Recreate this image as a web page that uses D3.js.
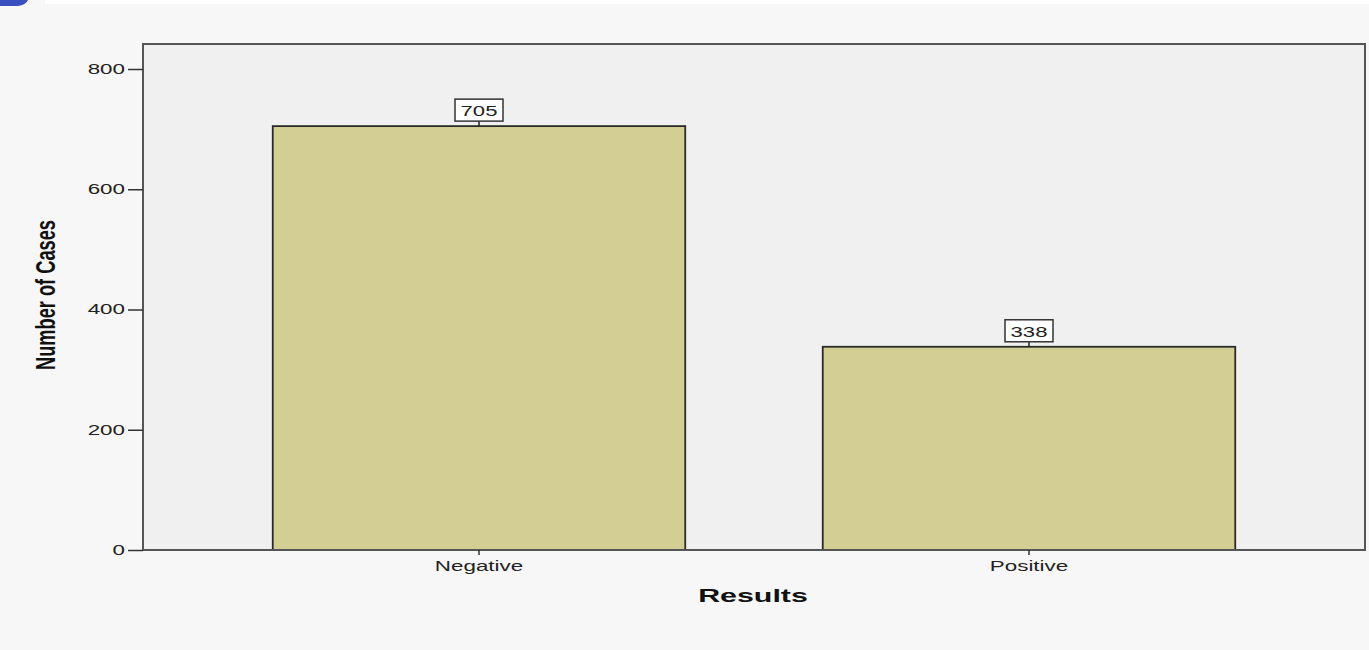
<!DOCTYPE html>
<html>
<head>
<meta charset="utf-8">
<script src="https://cdn.jsdelivr.net/npm/d3@7"></script>
<style>
  html, body { margin: 0; padding: 0; background: #f7f7f7; }
  svg { display: block; }
</style>
</head>
<body>
<svg id="chart" width="1369" height="650"></svg>
<script>
// Test results: number of cases per outcome
const categories = ["Negative", "Positive"];
const counts = [705, 338];
const yTicks = [0, 200, 400, 600, 800];
const xTitle = "Results";
const yTitle = "Number of Cases";

const W = 1369, H = 650;
const frame = { left: 143, right: 1365, top: 44, bottom: 550 };
const SX = 1.6;            // horizontal stretch applied to text
const FONT = "Liberation Sans, Arial, sans-serif";

const svg = d3.select("#chart");

// page background and top strip
svg.append("rect").attr("width", W).attr("height", H).attr("fill", "#f7f7f7");
svg.append("rect").attr("x", 45).attr("y", 0).attr("width", W - 45).attr("height", 4).attr("fill", "#ffffff");
svg.append("path")
  .attr("d", "M0,0 L28,0 Q26,5 18,6 L0,6 Z")
  .attr("fill", "#3a4fc0");

const y = d3.scaleLinear().domain([0, 800]).range([frame.bottom, 69]);
const x = d3.scaleBand()
  .domain(categories)
  .range([204, 1304])
  .paddingInner(0.25)
  .paddingOuter(0.125);

// plot area
svg.append("rect")
  .attr("x", frame.left).attr("y", frame.top)
  .attr("width", frame.right - frame.left).attr("height", frame.bottom - frame.top)
  .attr("fill", "#f0f0f0");

// bars
svg.append("g").selectAll("rect")
  .data(categories)
  .join("rect")
  .attr("x", d => x(d))
  .attr("y", (d, i) => y(counts[i]))
  .attr("width", x.bandwidth())
  .attr("height", (d, i) => y(0) - y(counts[i]))
  .attr("fill", "#d3cf94")
  .attr("stroke", "#2a2a2a")
  .attr("stroke-width", 1.8);

// frame border
svg.append("rect")
  .attr("x", frame.left).attr("y", frame.top)
  .attr("width", frame.right - frame.left).attr("height", frame.bottom - frame.top)
  .attr("fill", "none")
  .attr("stroke", "#555")
  .attr("stroke-width", 2);

// y axis
const yAxis = svg.append("g")
  .attr("transform", `translate(${frame.left},0)`)
  .call(d3.axisLeft(y).tickValues(yTicks).tickSize(15).tickPadding(3).tickFormat(d3.format("d")));
yAxis.select(".domain").remove();
yAxis.selectAll(".tick line").attr("stroke", "#333").attr("stroke-width", 1.5);
yAxis.selectAll(".tick text")
  .attr("font-family", FONT)
  .attr("font-size", 14).attr("fill", "#222")
  .attr("x", -18 / SX)
  .attr("transform", `scale(${SX},1)`);

// x axis
const xAxis = svg.append("g")
  .attr("transform", `translate(0,${frame.bottom})`)
  .call(d3.axisBottom(x).tickSize(5).tickPadding(3));
xAxis.select(".domain").remove();
xAxis.selectAll(".tick line").attr("stroke", "#333").attr("stroke-width", 1.5);
xAxis.selectAll(".tick text")
  .attr("font-family", FONT)
  .attr("font-size", 14).attr("fill", "#222")
  .attr("y", 11)
  .attr("transform", `scale(${SX},1)`);

// value labels with boxes
const lab = svg.append("g").selectAll("g")
  .data(categories)
  .join("g")
  .attr("transform", (d, i) => `translate(${x(d) + x.bandwidth() / 2},${y(counts[i])})`);
lab.append("line")
  .attr("x1", 0).attr("x2", 0).attr("y1", 0).attr("y2", -5)
  .attr("stroke", "#222").attr("stroke-width", 1.5);
lab.append("rect")
  .attr("x", -24).attr("y", -27).attr("width", 48).attr("height", 22)
  .attr("fill", "#ffffff").attr("stroke", "#333").attr("stroke-width", 1.5);
lab.append("text")
  .attr("transform", `translate(0,-10) scale(${SX * 0.92},1)`)
  .attr("text-anchor", "middle")
  .attr("font-family", FONT)
  .attr("font-size", 15).attr("fill", "#222")
  .text((d, i) => counts[i]);

// axis titles
svg.append("text")
  .attr("transform", `translate(753,602) scale(${SX},1)`)
  .attr("text-anchor", "middle")
  .attr("font-family", FONT)
  .attr("font-weight", "bold")
  .attr("font-size", 19).attr("fill", "#111")
  .text(xTitle);

const yt = svg.append("text")
  .attr("text-anchor", "middle")
  .attr("font-family", FONT)
  .attr("font-weight", "bold")
  .attr("font-size", 21).attr("fill", "#111")
  .text(yTitle);
const along = 150 / yt.node().getComputedTextLength();
yt.attr("transform", `translate(55,295) rotate(-90) scale(${along},${SX * 0.8})`);
</script>
</body>
</html>
